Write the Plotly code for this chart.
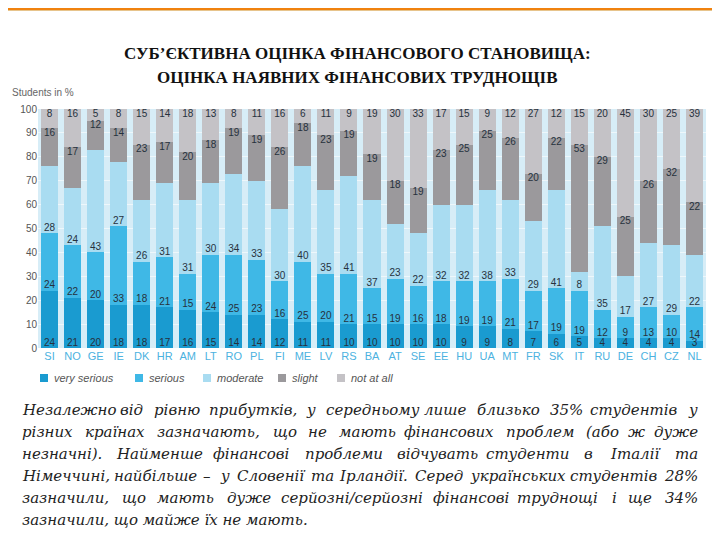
import plotly.graph_objects as go

# data (share of students, %)
countries = ["SI", "NO", "GE", "IE", "DK", "HR", "AM", "LT", "RO", "PL", "FI", "ME", "LV", "RS", "BA",
             "AT", "SE", "EE", "HU", "UA", "MT", "FR", "SK", "IT", "RU", "DE", "CH", "CZ", "NL"]
very_serious = [24, 21, 20, 18, 18, 17, 16, 15, 14, 14, 12, 11, 11, 10, 10,
                10, 10, 10, 9, 9, 8, 7, 6, 5, 4, 4, 4, 4, 3]
serious = [24, 22, 20, 33, 18, 21, 15, 24, 25, 23, 16, 25, 20, 21, 15,
           19, 16, 18, 19, 19, 21, 17, 19, 19, 12, 9, 13, 10, 14]
moderate = [28, 24, 43, 27, 26, 31, 31, 30, 34, 33, 30, 40, 35, 41, 37,
            23, 22, 32, 32, 38, 33, 29, 41, 8, 35, 17, 27, 29, 22]
slight = [16, 17, 12, 14, 23, 17, 20, 18, 19, 19, 26, 18, 23, 19, 19,
          18, 19, 23, 25, 25, 26, 20, 22, 53, 29, 25, 26, 32, 22]
not_at_all = [8, 16, 5, 8, 15, 14, 18, 13, 8, 11, 16, 6, 11, 9, 19,
              30, 33, 17, 15, 9, 12, 27, 12, 15, 20, 45, 30, 25, 39]

series = [
    ("very serious", very_serious, "#1a9bd0"),
    ("serious", serious, "#3fb8e6"),
    ("moderate", moderate, "#a9dcf1"),
    ("slight", slight, "#9b999c"),
    ("not at all", not_at_all, "#c4c2c6"),
]
legend_x = [40, 135, 203, 278, 337]   # page x of the legend squares

title_lines = ["СУБ’ЄКТИВНА ОЦІНКА ФІНАНСОВОГО СТАНОВИЩА:", "ОЦІНКА НАЯВНИХ ФІНАНСОВИХ ТРУДНОЩІВ"]

para_lines = [
    "Незалежно від рівню прибутків, у середньому  лише близько 35% студентів у",
    "різних країнах зазначають, що не мають фінансових проблем (або ж дуже",
    "незначні). Найменше фінансові проблеми відчувать студенти в Італії та",
    "Німеччині, найбільше – у Словенії та Ірландії. Серед українських студентів 28%",
    "зазначили, що мають дуже серйозні/серйозні  фінансові труднощі і ще 34%",
    "зазначили, що майже їх не мають.",
]

W, H = 720, 540
OFF = 8                      # page body margin, positions below are page pixels
L, R, T, B = 30, 22, 101, 200
pw, ph = W - L - R, H - T - B


def px(x):
    return (x - OFF - L) / pw


def py(y):
    return (H - B - (y - OFF)) / ph


fig = go.Figure()
for name, vals, color in series:
    fig.add_trace(go.Bar(x=countries, y=vals, name=name, marker_color=color, marker_line_width=0))

# value labels: first three sit on the lower edge of their segment, last two hang from the top
bases = [[0] * len(countries)]
for _, vals, _ in series:
    bases.append([b + v for b, v in zip(bases[-1], vals)])
lab_font = dict(family="Liberation Sans, Arial", size=10, color="#26313d")
for k, (name, vals, color) in enumerate(series):
    if k < 3:
        ys, pos = bases[k], "top center"
    else:
        ys, pos = bases[k + 1], "bottom center"
    fig.add_trace(go.Scatter(x=countries, y=ys, mode="text", text=vals, textposition=pos,
                             textfont=lab_font, hoverinfo="skip", showlegend=False, cliponaxis=False))

fig.update_layout(
    width=W, height=H, barmode="stack", bargap=0.26,
    margin=dict(l=L, r=R, t=T, b=B),
    paper_bgcolor="white", plot_bgcolor="#d7edf7",
    showlegend=False,
    font=dict(family="Liberation Sans, Arial"),
)
fig.update_xaxes(tickfont=dict(size=11, color="#4cb2df"), showgrid=False, ticks="",
                 range=[-0.5, len(countries) - 0.5])
fig.update_yaxes(range=[0, 100], dtick=10, tickfont=dict(size=10, color="#555555"),
                 showgrid=True, gridcolor="#eef7fb", gridwidth=1, zeroline=False, ticklen=0)

# orange band at the top of the slide
fig.add_shape(type="rect", xref="paper", yref="paper", x0=px(0), x1=px(W + OFF), y0=py(10), y1=py(OFF),
              fillcolor="#f0820f", line_width=0, layer="above")
fig.add_shape(type="rect", xref="paper", yref="paper", x0=px(0), x1=px(W + OFF), y0=py(11), y1=py(10),
              fillcolor="#e7c48c", line_width=0, layer="above")

for i, line in enumerate(title_lines):
    fig.add_annotation(text="<b>%s</b>" % line, x=px(357), y=py(53 + 24 * i), xref="paper", yref="paper",
                       showarrow=False, xanchor="center", yanchor="middle",
                       font=dict(family="Liberation Serif", size=17, color="#111111"))

fig.add_annotation(text="Students in %", x=px(10), y=py(92), xref="paper", yref="paper",
                   showarrow=False, xanchor="left", yanchor="middle",
                   font=dict(size=10, color="#666666"))

# manual legend
for (name, vals, color), lx in zip(series, legend_x):
    fig.add_shape(type="rect", xref="paper", yref="paper", x0=px(lx), x1=px(lx + 8),
                  y0=py(382), y1=py(374), fillcolor=color, line_width=0)
    fig.add_annotation(text=name, x=px(lx + 12), y=py(378), xref="paper", yref="paper",
                       showarrow=False, xanchor="left", yanchor="middle",
                       font=dict(size=11, color="#555555", style="italic"))

# justified paragraph: words placed from both edges towards the middle
narrow = set("іїlijtf,.;:'’()/!|")
wide = set("жшщюмфт%")


def word_w(w, size):
    total = 0.0
    for ch in w:
        if ch in narrow:
            total += 0.34
        elif ch in wide:
            total += 0.85
        elif ch.isupper():
            total += 0.74
        elif ch.isdigit():
            total += 0.64
        else:
            total += 0.6
    return total * size


fsize = 15
x_left, x_right = 20, 700
pfont = dict(family="DejaVu Serif", size=fsize, color="#222222", style="italic")
for i, line in enumerate(para_lines):
    y = py(410 + 22 * i)
    words = line.split()
    if i == len(para_lines) - 1:
        fig.add_annotation(text=line, x=px(x_left), y=y, xref="paper", yref="paper", showarrow=False,
                           xanchor="left", yanchor="middle", font=pfont)
        continue
    widths = [word_w(w, fsize) for w in words]
    gap = (x_right - x_left - sum(widths)) / (len(words) - 1)
    half = (len(words) + 1) // 2
    xc = x_left
    for j in range(half):
        fig.add_annotation(text=words[j], x=px(xc), y=y, xref="paper", yref="paper", showarrow=False,
                           xanchor="left", yanchor="middle", font=pfont)
        xc += widths[j] + gap
    xc = x_right
    for j in range(len(words) - 1, half - 1, -1):
        fig.add_annotation(text=words[j], x=px(xc), y=y, xref="paper", yref="paper", showarrow=False,
                           xanchor="right", yanchor="middle", font=pfont)
        xc -= widths[j] + gap

fig.write_html("out.html")
